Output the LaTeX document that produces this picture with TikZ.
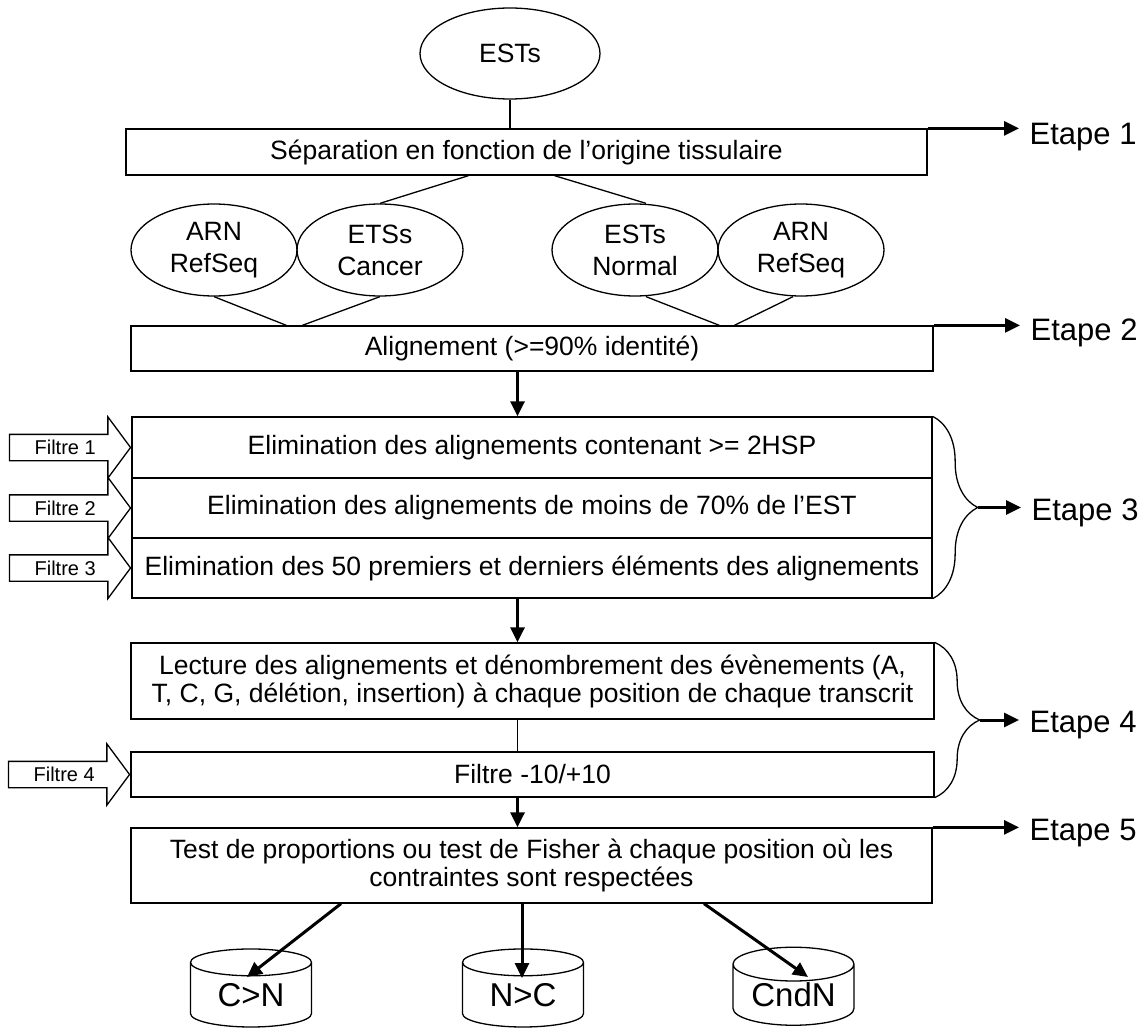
\documentclass[tikz,border=0pt]{standalone}
\usepackage{fontspec}
\setmainfont{Liberation Sans}
\usetikzlibrary{calc, shapes.geometric, shapes.arrows, arrows.meta, decorations.pathreplacing}

\begin{document}
\begin{tikzpicture}[x=1pt, y=-1pt, line width=1.3pt,
		boite/.style={draw, minimum width=801pt, inner sep=0pt, align=center, font=\fontsize{26.5}{28}\selectfont},
		bulle/.style={draw, ellipse, minimum width=166pt, minimum height=92pt, inner sep=0pt, align=center, font=\fontsize{26.5}{32}\selectfont},
		base/.style={draw, cylinder, shape border rotate=90, aspect=0.4, minimum width=121pt, minimum height=78pt, inner sep=0pt, font=\fontsize{33}{36}\selectfont},
		filtre/.style={draw, single arrow, single arrow head extend=17.5pt, single arrow tip angle=107, minimum height=121pt, text height=14pt, text depth=0pt, inner ysep=5.5pt, inner xsep=2pt, font=\fontsize{20}{22}\selectfont},
		etape/.style={anchor=west, inner xsep=10pt, inner ysep=0pt, font=\fontsize{31}{33}\selectfont},
		fleche/.style={line width=3pt, -{Triangle[length=15pt, width=14pt]}}]
	\useasboundingbox (0,0) rectangle (1145,1032);
	
	\coordinate (axe) at (517.5,0);
	
	\node[bulle, minimum width=180pt, minimum height=91pt] (ests) at (510,53.5) {ESTs};
	\node[boite, minimum height=46pt] (sep) at (526.5,152) {Séparation en fonction de l’origine tissulaire};
	
	\node[bulle] (arn1) at (214,250) {ARN\\RefSeq};
	\node[bulle] (cancer) at (380,250) {ETSs\\Cancer};
	\node[bulle] (normal) at (635,250) {ESTs\\Normal};
	\node[bulle] (arn2) at (801,250) {ARN\\RefSeq};
	
	\node[boite, minimum width=802pt, minimum height=45pt] (align) at (532,348.5) {Alignement (>=90\% identité)};
	
	\node[boite, minimum width=800pt, minimum height=61pt] (elim1) at (532,447.5) {Elimination des alignements contenant >= 2HSP};
	\node[boite, minimum width=800pt, minimum height=60pt] (elim2) at (532,508) {Elimination des alignements de moins de 70\% de l’EST};
	\node[boite, minimum width=800pt, minimum height=60pt] (elim3) at (532,568) {Elimination des 50 premiers et derniers éléments des alignements};
	
	\node[boite, minimum width=803pt, minimum height=76pt] (lect) at (532.5,681) {Lecture des alignements et dénombrement des évènements (A,\\T, C, G, délétion, insertion) à chaque position de chaque transcrit};
	\node[boite, minimum width=803pt, minimum height=45pt] (filt) at (532.5,774.5) {Filtre -10/+10};
	\node[boite, minimum width=801pt, minimum height=75pt] (test) at (531.5,865.5) {Test de proportions ou test de Fisher à chaque position où les\\contraintes sont respectées};
	
	\node[base] (cn) at (251,995) {C>N};
	\node[base] (nc) at (523,995) {N>C};
	\node[base] (cndn) at (793.5,995) {CndN};
	
	\node[filtre, anchor=tip] (f1) at (elim1.west) {Filtre 1};
	\node[filtre, anchor=tip] (f2) at (elim2.west) {Filtre 2};
	\node[filtre, anchor=tip] (f3) at (elim3.west) {Filtre 3};
	\node[filtre, anchor=tip] (f4) at (filt.west) {Filtre 4};
	
	\node[etape] (e1) at (1019,137) {Etape 1};
	\node[etape] (e2) at (1020,333) {Etape 2};
	\node[etape] (e3) at (1021,513) {Etape 3};
	\node[etape] (e4) at (1019,725) {Etape 4};
	\node[etape] (e5) at (1019,833) {Etape 5};
	
	\draw (ests.south) -- (ests.south |- sep.north);
	\draw ($(sep.south)+(-58,0)$) -- (cancer.north);
	\draw ($(sep.south)+(28,0)$) -- ($(normal.north)+(11,0)$);
	\draw (arn1.south) -- ($(align.north west)+(156,0)$);
	\draw (cancer.south) -- ($(align.north west)+(172,0)$);
	\draw ($(normal.south)+(11,0)$) -- ($(align.north west)+(589,0)$);
	\draw ($(arn2.south)+(-8,0)$) -- ($(align.north west)+(604,0)$);
	\draw (lect.south -| axe) -- (filt.north -| axe);
	
	\draw[fleche] (align.south -| axe) -- (elim1.north -| axe);
	\draw[fleche] (elim3.south -| axe) -- (lect.north -| axe);
	\draw[fleche] (filt.south -| axe) -- (test.north -| axe);
	
	\draw[fleche] ($(test.south)+(-190.5,0)$) -- ($(cn.center)+(-4,-18)$);
	\draw[fleche] ($(test.south)+(-9.5,0)$) -- ($(nc.center)+(-1,-17)$);
	\draw[fleche] ($(test.south)+(172.5,0)$) -- ($(cndn.center)+(14.5,-18)$);
	
	\draw[decorate, decoration={brace, amplitude=45pt}] (elim1.north east) -- (elim3.south east);
	\draw[decorate, decoration={brace, amplitude=45pt}] (lect.north east) -- (filt.south east);
	\coordinate (t3) at ($(elim1.north east)!0.5!(elim3.south east)+(45,0)$);
	\coordinate (t4) at ($(lect.north east)!0.5!(filt.south east)+(45,0)$);
	
	\draw[fleche] (sep.north east) -- (e1.west |- sep.north east);
	\draw[fleche] (align.north east) -- (e2.west |- align.north east);
	\draw[fleche] (t3) -- (e3.west |- t3);
	\draw[fleche] (t4) -- (e4.west |- t4);
	\draw[fleche] (test.north east) -- (e5.west |- test.north east);
\end{tikzpicture}
\end{document}
